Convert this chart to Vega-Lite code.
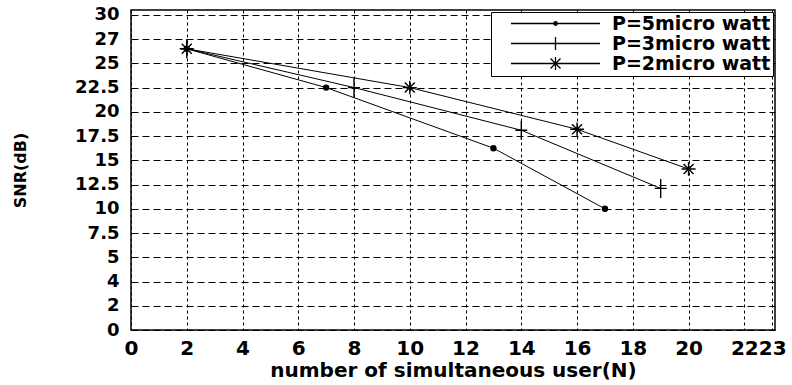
{
  "$schema": "https://vega.github.io/schema/vega-lite/v6.json",
  "autosize": "none",
  "width": 644,
  "height": 320,
  "padding": {"left": 131, "top": 10, "right": 17, "bottom": 55},
  "background": "white",
  "config": {
    "view": {"stroke": "black", "strokeWidth": 1.5},
    "axis": {"gridColor": "black", "gridOpacity": 1, "gridWidth": 1, "ticks": false, "domain": false, "labelColor": "black", "titleColor": "black", "labelFont": "DejaVu Sans", "titleFont": "DejaVu Sans", "labelFontWeight": "bold", "titleFontWeight": "bold"}
  },
  "data": {
    "values": [
      {"series": "P=5micro watt", "N": 2, "SNR": 26.5},
      {"series": "P=5micro watt", "N": 7, "SNR": 22.5},
      {"series": "P=5micro watt", "N": 13, "SNR": 16.25},
      {"series": "P=5micro watt", "N": 17, "SNR": 10},
      {"series": "P=3micro watt", "N": 2, "SNR": 26.5},
      {"series": "P=3micro watt", "N": 8, "SNR": 22.5},
      {"series": "P=3micro watt", "N": 14, "SNR": 18.1},
      {"series": "P=3micro watt", "N": 19, "SNR": 12.1},
      {"series": "P=2micro watt", "N": 2, "SNR": 26.5},
      {"series": "P=2micro watt", "N": 10, "SNR": 22.5},
      {"series": "P=2micro watt", "N": 16, "SNR": 18.2},
      {"series": "P=2micro watt", "N": 20, "SNR": 14.1}
    ]
  },
  "encoding": {
    "x": {
      "field": "N", "type": "quantitative",
      "scale": {"domain": [0, 23.1], "nice": false, "zero": false},
      "axis": {
        "values": [0, 2, 4, 6, 8, 10, 12, 14, 16, 18, 20, 22, 23],
        "format": "d",
        "labelOverlap": false, "labelBound": false, "labelFlush": false,
        "labelFontSize": 20, "labelPadding": 8,
        "gridDash": [3, 3],
        "title": "number of simultaneous user(N)",
        "titleFontSize": 20, "titlePadding": 2
      }
    },
    "y": {
      "field": "SNR", "type": "quantitative",
      "scale": {"domain": [-2.5, 30.5], "nice": false, "zero": false},
      "axis": {
        "values": [-2.5, 0, 2.5, 5, 7.5, 10, 12.5, 15, 17.5, 20, 22.5, 25, 27.5, 30],
        "format": ".1~f",
        "labelExpr": "datum.value == -2.5 ? '0' : datum.value == 0 ? '2' : datum.value == 2.5 ? '4' : datum.value == 27.5 ? '27' : datum.label",
        "labelOverlap": false, "labelBound": false, "labelFlush": false,
        "labelFontSize": 18, "labelPadding": 12,
        "gridDash": [7, 4],
        "title": "SNR(dB)",
        "titleFontSize": 16, "titlePadding": 46
      }
    }
  },
  "resolve": {"scale": {"shape": "independent"}, "legend": {"shape": "independent"}},
  "layer": [
    {
      "mark": {"type": "line", "color": "black", "strokeWidth": 1},
      "encoding": {"detail": {"field": "series"}}
    },
    {
      "mark": {"type": "point", "fill": "black", "stroke": "black", "strokeWidth": 1.4, "opacity": 1, "size": 100},
      "encoding": {
        "shape": {
          "field": "series", "type": "nominal",
          "scale": {
            "domain": ["P=5micro watt", "P=3micro watt", "P=2micro watt"],
            "range": [
              "M0.5,0A0.5,0.5 0 1 1 -0.5,0A0.5,0.5 0 1 1 0.5,0Z",
              "M-1.2,0H1.2M0,-1.9V1.9",
              "M-1.4,0H1.4M0,-1.35V1.35M-1,-1L1,1M-1,1L1,-1"
            ]
          },
          "legend": null
        }
      }
    },
    {
      "transform": [{"filter": "datum.N < 0"}],
      "mark": {"type": "point", "filled": false, "color": "black", "strokeWidth": 1.3, "opacity": 1, "size": 100},
      "encoding": {
        "shape": {
          "field": "series", "type": "nominal",
          "scale": {
            "domain": ["P=5micro watt", "P=3micro watt", "P=2micro watt"],
            "range": [
              "M-16.7,0H1.1M-7.45,0A0.35,0.35 0 1 1 -8.15,0A0.35,0.35 0 1 1 -7.45,0Z",
              "M-16.7,0H1.1M-7.8,-1.3V1.3",
              "M-16.7,0H1.1M-7.8,-1.3V1.3M-8.8,-1L-6.8,1M-8.8,1L-6.8,-1"
            ]
          },
          "legend": {
            "title": null,
            "orient": "top-right",
            "offset": 2,
            "padding": 2,
            "strokeColor": "black",
            "fillColor": "white",
            "labelFont": "DejaVu Sans",
            "labelFontWeight": "bold",
            "labelFontSize": 19,
            "labelColor": "black",
            "labelLimit": 400,
            "labelOffset": 8,
            "symbolSize": 100,
            "symbolStrokeWidth": 1.3,
            "symbolOffset": 92,
            "symbolOpacity": 1,
            "rowPadding": 0
          }
        }
      }
    }
  ]
}
